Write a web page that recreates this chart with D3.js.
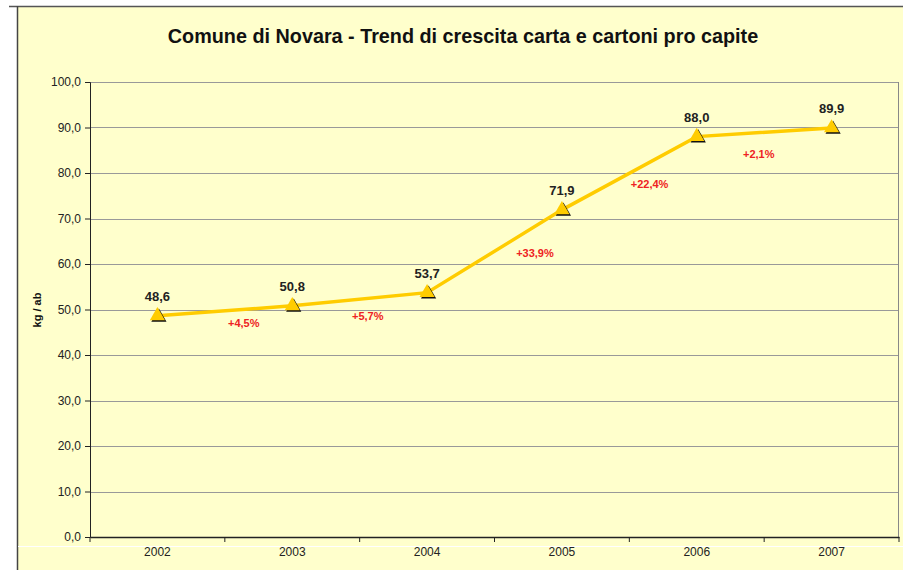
<!DOCTYPE html>
<html>
<head>
<meta charset="utf-8">
<script src="https://cdn.jsdelivr.net/npm/d3@7"></script>
<style>
  body { margin: 0; background: #fff; }
  svg { display: block; font-family: "Liberation Sans", Arial, sans-serif; }
</style>
</head>
<body>
<svg width="903" height="570"></svg>
<script>
// data
var years = ["2002", "2003", "2004", "2005", "2006", "2007"];
var values = [48.6, 50.8, 53.7, 71.9, 88.0, 89.9];
var valueLabels = ["48,6", "50,8", "53,7", "71,9", "88,0", "89,9"];
var growthLabels = ["+4,5%", "+5,7%", "+33,9%", "+22,4%", "+2,1%"];
// anchors of the growth labels (hidden series: category index, kg/ab)
var growthAtIndex = [0.64, 1.56, 2.8, 3.65, 4.46];
var growthAtValue = [46.2, 47.8, 61.6, 76.7, 83.3];
var yTicks = [0, 10, 20, 30, 40, 50, 60, 70, 80, 90, 100];

var svg = d3.select("svg");

// page background + frame
svg.append("rect")
    .attr("x", 17).attr("y", 6)
    .attr("width", 890).attr("height", 570)
    .attr("fill", "#ffffcc");
svg.append("line")
    .attr("x1", 9).attr("x2", 903).attr("y1", 6.5).attr("y2", 6.5)
    .attr("stroke", "#555").attr("stroke-width", 1.5);
svg.append("line")
    .attr("x1", 17.5).attr("x2", 17.5).attr("y1", 6).attr("y2", 570)
    .attr("stroke", "#444").attr("stroke-width", 1.5);
svg.append("line")
    .attr("x1", 18).attr("x2", 903).attr("y1", 546.5).attr("y2", 546.5)
    .attr("stroke", "#fff").attr("stroke-width", 1);

var margin = {top: 82, left: 90, right: 4, bottom: 33},
    width = 903 - margin.left - margin.right,
    height = 570 - margin.top - margin.bottom;

svg.append("text")
    .attr("x", 463).attr("y", 43)
    .attr("text-anchor", "middle")
    .attr("font-size", "19.8px")
    .attr("font-weight", "bold")
    .attr("fill", "#111")
    .text("Comune di Novara - Trend di crescita carta e cartoni pro capite");

var g = svg.append("g")
    .attr("transform", "translate(" + margin.left + "," + margin.top + ")");

var x = d3.scaleBand()
    .domain(years)
    .range([0, width]);
var xi = function(i) { return x.bandwidth() * (i + 0.5); };

var y = d3.scaleLinear()
    .domain([0, 100])
    .range([height, 0]);

// gridlines
g.append("g")
    .selectAll("line")
    .data(yTicks.slice(1))
    .enter()
    .append("line")
        .attr("x1", 0).attr("x2", width)
        .attr("y1", function(d) { return Math.round(y(d)) + 0.5; })
        .attr("y2", function(d) { return Math.round(y(d)) + 0.5; })
        .attr("stroke", "#999")
        .attr("stroke-width", 1);

// right border of plot area
g.append("line")
    .attr("x1", width - 0.5).attr("x2", width - 0.5)
    .attr("y1", 0).attr("y2", height)
    .attr("stroke", "#888");

// y axis
var yAxis = g.append("g")
    .call(d3.axisLeft(y)
        .tickValues(yTicks)
        .tickSize(5)
        .tickFormat(function(d) { return d3.format(".1f")(d).replace(".", ","); }));
yAxis.select(".domain").attr("stroke", "#222");
yAxis.selectAll(".tick line").attr("stroke", "#222");
yAxis.selectAll("text")
    .attr("font-size", "12px")
    .attr("fill", "#222")
    .attr("x", -9);

// x axis
var xAxis = g.append("g")
    .attr("transform", "translate(0," + height + ")")
    .call(d3.axisBottom(x).tickSize(0).tickPadding(10));
xAxis.select(".domain").attr("stroke", "#222").attr("stroke-width", 1.5);
xAxis.selectAll("text")
    .attr("font-size", "12px")
    .attr("fill", "#222");
xAxis.append("g")
    .selectAll("line")
    .data(d3.range(years.length + 1))
    .enter()
    .append("line")
        .attr("x1", function(i) { return i * x.bandwidth(); })
        .attr("x2", function(i) { return i * x.bandwidth(); })
        .attr("y1", 0).attr("y2", 5)
        .attr("stroke", "#222");

// y title
svg.append("text")
    .attr("transform", "translate(41,310) rotate(-90)")
    .attr("text-anchor", "middle")
    .attr("font-size", "11px")
    .attr("font-weight", "bold")
    .attr("fill", "#111")
    .text("kg / ab");

// line
g.append("path")
    .datum(values)
    .attr("fill", "none")
    .attr("stroke", "#ffcc00")
    .attr("stroke-width", 3.5)
    .attr("d", d3.line()
        .x(function(d, i) { return xi(i); })
        .y(function(d) { return y(d); }));

// markers: black shadow then yellow triangle
var tri = d3.symbol().type(d3.symbolTriangle).size(100);
g.selectAll(".shadow")
    .data(values)
    .enter()
    .append("path")
        .attr("class", "shadow")
        .attr("d", tri)
        .attr("transform", function(d, i) { return "translate(" + (xi(i) + 1.5) + "," + (y(d) + 1.5) + ")"; })
        .attr("fill", "#111");
g.selectAll(".marker")
    .data(values)
    .enter()
    .append("path")
        .attr("class", "marker")
        .attr("d", tri)
        .attr("transform", function(d, i) { return "translate(" + xi(i) + "," + y(d) + ")"; })
        .attr("fill", "#ffcc00");

// value labels
g.selectAll(".vlabel")
    .data(values)
    .enter()
    .append("text")
        .attr("class", "vlabel")
        .attr("x", function(d, i) { return xi(i); })
        .attr("y", function(d) { return y(d) - 15; })
        .attr("text-anchor", "middle")
        .attr("font-size", "13px")
        .attr("font-weight", "bold")
        .attr("fill", "#222")
        .text(function(d, i) { return valueLabels[i]; });

// growth labels
g.selectAll(".glabel")
    .data(growthLabels)
    .enter()
    .append("text")
        .attr("class", "glabel")
        .attr("x", function(d, i) { return xi(growthAtIndex[i]); })
        .attr("y", function(d, i) { return y(growthAtValue[i]); })
        .attr("text-anchor", "middle")
        .attr("font-size", "11px")
        .attr("font-weight", "bold")
        .attr("fill", "#ee2222")
        .text(function(d) { return d; });
</script>
</body>
</html>
